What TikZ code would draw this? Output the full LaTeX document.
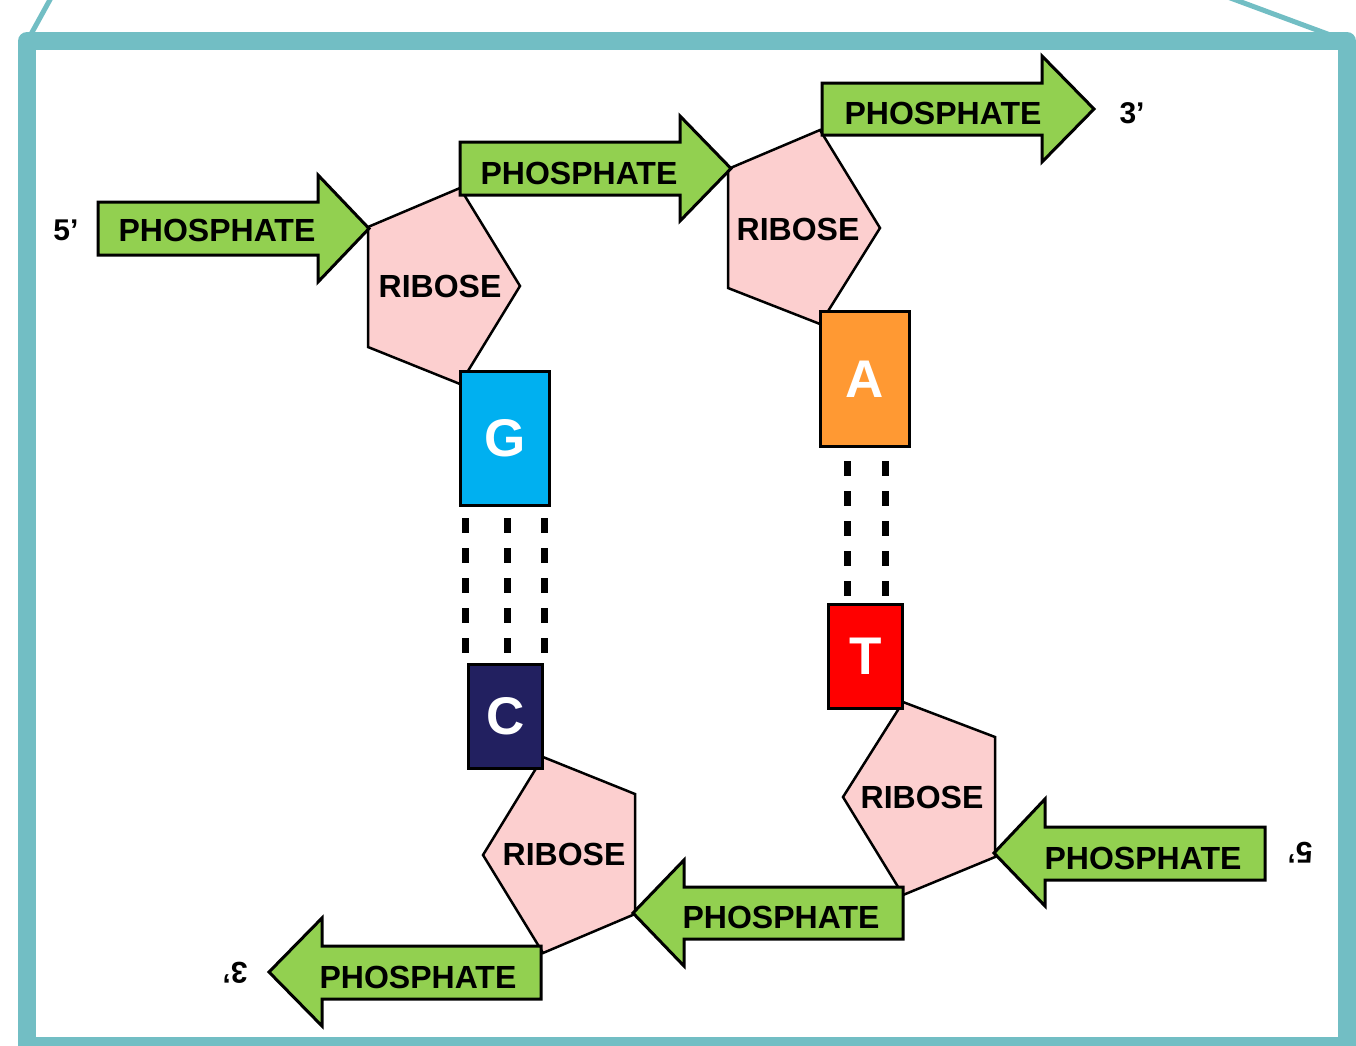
\documentclass[tikz,border=0pt]{standalone}
\usepackage{fontspec}
\setmainfont{Liberation Sans}
\definecolor{frameteal}{RGB}{114,190,196}
\definecolor{phgreen}{RGB}{146,208,80}
\definecolor{ribpink}{RGB}{252,207,207}
\definecolor{gblue}{RGB}{0,176,240}
\definecolor{cnavy}{RGB}{34,32,96}
\definecolor{aorange}{RGB}{255,153,51}
\definecolor{tred}{RGB}{255,0,0}
\tikzset{
  pharrow/.style={draw=black, line width=3pt, fill=phgreen, line join=miter},
  ribshape/.style={draw=black, line width=2.5pt, fill=ribpink, line join=miter},
  lbl/.style={font=\fontsize{32}{32}\selectfont\bfseries, inner sep=0pt},
  endlbl/.style={font=\fontsize{30}{30}\selectfont\bfseries, inner sep=0pt},
  basebox/.style={draw=black, line width=3pt, inner sep=0pt, text=white,
    font=\fontsize{53}{53}\selectfont\bfseries},
  hbond/.style={draw=black, line width=7pt, dash pattern=on 15pt off 15pt}
}
\begin{document}
\begin{tikzpicture}[x=1pt,y=-1pt]
\useasboundingbox (0,0) rectangle (1356,1045);
% frame
\draw[frameteal, line width=5pt] (30,36) -- (52,-4);
\draw[frameteal, line width=5pt] (1225,-4) -- (1333,36);
\draw[frameteal, line width=18pt, line join=round] (27,41) rectangle (1347,1046);
% ribose pentagons
\draw[ribshape] (368,227) -- (460,188) -- (520,286) -- (460,384) -- (368,347) -- cycle;
\draw[ribshape] (728,169) -- (820,130) -- (880,228) -- (820,324) -- (728,288) -- cycle;
\draw[ribshape] (483,855) -- (543,757) -- (635,794) -- (635,914) -- (543,953) -- cycle;
\draw[ribshape] (843,797) -- (903,702) -- (995,737) -- (995,857) -- (903,895) -- cycle;
% phosphate arrows
\draw[pharrow] (98,202) -- (318,202) -- (318,175) -- (369,228.5) -- (318,282) -- (318,255) -- (98,255) -- cycle;
\draw[pharrow] (460,142) -- (680,142) -- (680,116) -- (731,168.5) -- (680,221) -- (680,195) -- (460,195) -- cycle;
\draw[pharrow] (822,83) -- (1042,83) -- (1042,56) -- (1094,109) -- (1042,162) -- (1042,135) -- (822,135) -- cycle;
\draw[pharrow] (1265,827) -- (1045,827) -- (1045,799) -- (994,853) -- (1045,906) -- (1045,880) -- (1265,880) -- cycle;
\draw[pharrow] (903,887) -- (684,887) -- (684,860) -- (633,913) -- (684,966) -- (684,939) -- (903,939) -- cycle;
\draw[pharrow] (541,946) -- (322,946) -- (322,918) -- (269,972) -- (322,1026) -- (322,999) -- (541,999) -- cycle;
% text labels
\node[lbl] (ph1) at (217,230) {PHOSPHATE};
\node[lbl] (ph2) at (579,173) {PHOSPHATE};
\node[lbl] (ph3) at (943,113) {PHOSPHATE};
\node[lbl] (ph4) at (1143,858) {PHOSPHATE};
\node[lbl] (ph5) at (781,917) {PHOSPHATE};
\node[lbl] (ph6) at (418,977) {PHOSPHATE};
\node[lbl] (rb1) at (440,286) {RIBOSE};
\node[lbl] (rb2) at (798,229) {RIBOSE};
\node[lbl] (rb3) at (564,854) {RIBOSE};
\node[lbl] (rb4) at (922,797) {RIBOSE};
\node[endlbl] (e5a) at (66,230) {5’};
\node[endlbl] (e3a) at (1132,113) {3’};
\node[endlbl, rotate=180] (e5b) at (1300,853) {5’};
\node[endlbl, rotate=180] (e3b) at (235,973) {3’};
% bases
\node[basebox, fill=gblue, minimum width=89pt, minimum height=134pt] (G) at (505,438.5) {G};
\node[basebox, fill=cnavy, minimum width=74pt, minimum height=104pt] (C) at (505.5,716.5) {C};
\node[basebox, fill=aorange, minimum width=89pt, minimum height=135pt] (A) at (865,379) {A};
\node[basebox, fill=tred, minimum width=74pt, minimum height=104pt] (T) at (865.5,656.5) {T};
% hydrogen bonds
\foreach \dx in {-40,2,39}
  \draw[hbond, shorten <=11pt, shorten >=10pt] ([xshift=\dx pt]G.south) -- ([xshift=\dx pt]G.south |- C.north);
\foreach \dx in {-18,20}
  \draw[hbond, shorten <=13pt, shorten >=7pt] ([xshift=\dx pt]A.south) -- ([xshift=\dx pt]A.south |- T.north);
\end{tikzpicture}
\end{document}
